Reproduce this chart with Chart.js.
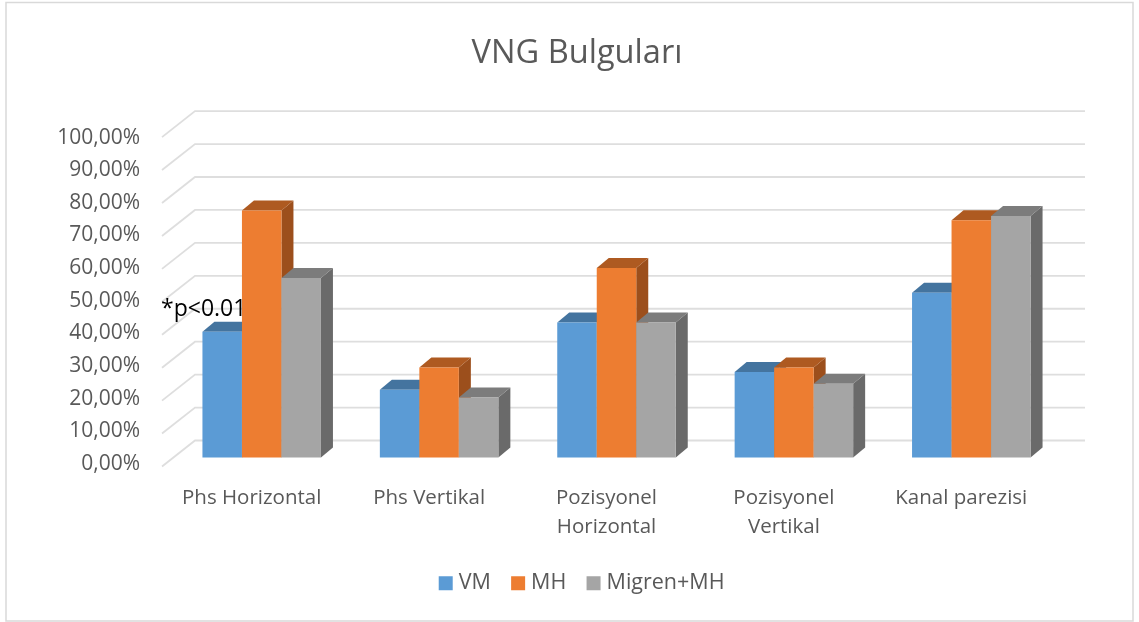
<!DOCTYPE html>
<html>
<head>
<meta charset="utf-8">
<script src="https://cdn.jsdelivr.net/npm/chart.js@4"></script>
<style>
  html, body { margin: 0; background: #fff; }
  canvas { display: block; }
</style>
</head>
<body>
<canvas id="vngChart" width="1139" height="622"></canvas>
<script>
const categories = ["Phs Horizontal", "Phs Vertikal", ["Pozisyonel", "Horizontal"], ["Pozisyonel", "Vertikal"], "Kanal parezisi"];
const vmValues = [38.2, 20.6, 41, 26, 50];
const mhValues = [75, 27.3, 57.5, 27.3, 72];
const migrenValues = [54.5, 18.2, 41, 22.4, 73.3];
const tickValues = [0, 10, 20, 30, 40, 50, 60, 70, 80, 90, 100];
const tickLabels = ["0,00%", "10,00%", "20,00%", "30,00%", "40,00%", "50,00%", "60,00%", "70,00%", "80,00%", "90,00%", "100,00%"];

const textColor = "#595959";
const fontFamily = "'Open Sans'";

// faces of the fake 3D bars, by dataset index
const topColors = ["#44749f", "#ae5a21", "#7c7c7c"];
const sideColors = ["#3d6a91", "#9c4f1c", "#6a6a6a"];

// depth of the box and of one bar, in pixels
const wallBack = { x: 22, y: -17 };
const wallFront = { x: -11, y: 9 };
const barDepth = { x: 12, y: -10 };

function poly(ctx, pts, color) {
  ctx.fillStyle = color;
  ctx.beginPath();
  pts.forEach((p, i) => i ? ctx.lineTo(p[0], p[1]) : ctx.moveTo(p[0], p[1]));
  ctx.closePath();
  ctx.fill();
}

const fake3d = {
  id: "fake3d",
  afterLayout(chart) {
    // title and legend do not sit on the canvas centre in the picture
    chart.titleBlock.left = 15;
    chart.titleBlock.right = 1139;
    chart.legend.left = 29;
    chart.legend.right = 1139;
  },
  beforeDraw(chart) {
    const ctx = chart.ctx;
    ctx.save();
    ctx.fillStyle = "#fff";
    ctx.fillRect(0, 0, chart.width, chart.height);
    ctx.strokeStyle = "#d9d9d9";
    ctx.lineWidth = 1.5;
    ctx.strokeRect(6, 2.5, 1127, 618.5);
    ctx.restore();
  },
  beforeDatasetsDraw(chart) {
    const ctx = chart.ctx, area = chart.chartArea, y = chart.scales.y;
    ctx.save();
    ctx.strokeStyle = "#dedede";
    ctx.lineWidth = 1.8;
    tickValues.forEach(v => {
      const py = y.getPixelForValue(v);
      ctx.beginPath();
      ctx.moveTo(area.left + wallFront.x, py + wallFront.y);
      ctx.lineTo(area.left + wallBack.x, py + wallBack.y);
      ctx.lineTo(area.right + 25, py + wallBack.y);
      ctx.stroke();
    });
    ctx.restore();
  },
  // the library paints the first dataset last, here it has to be the other way round
  beforeDatasetDraw() {
    return false;
  },
  afterDatasetsDraw(chart) {
    const ctx = chart.ctx;
    chart.data.datasets.forEach((ds, i) => {
      chart.getDatasetMeta(i).data.forEach(bar => {
        const p = bar.getProps(["x", "y", "base", "width"], true);
        const l = p.x - p.width / 2, r = p.x + p.width / 2;
        poly(ctx, [[r, p.y], [r + barDepth.x, p.y + barDepth.y], [r + barDepth.x, p.base + barDepth.y], [r, p.base]], sideColors[i]);
        poly(ctx, [[l, p.y], [r, p.y], [r + barDepth.x, p.y + barDepth.y], [l + barDepth.x, p.y + barDepth.y]], topColors[i]);
        bar.draw(ctx);
      });
    });
    ctx.save();
    ctx.fillStyle = "#000";
    ctx.font = "23px " + fontFamily;
    ctx.textAlign = "left";
    ctx.textBaseline = "middle";
    ctx.fillText("*p<0.01", 161, 309);
    ctx.restore();
  }
};

new Chart("vngChart", {
  type: "bar",
  data: {
    labels: categories,
    datasets: [
      { label: "VM", data: vmValues, backgroundColor: "#5b9bd5" },
      { label: "MH", data: mhValues, backgroundColor: "#ed7d31" },
      { label: "Migren+MH", data: migrenValues, backgroundColor: "#a5a5a5" }
    ]
  },
  plugins: [fake3d],
  options: {
    responsive: false,
    animation: false,
    layout: { padding: { left: 0, right: 79, top: 0, bottom: 18 } },
    datasets: { bar: { categoryPercentage: 0.668, barPercentage: 1, yAxisID: "y" } },
    scales: {
      x: {
        grid: { display: false },
        border: { display: false },
        afterFit: s => { s.height = 80; },
        ticks: {
          color: textColor,
          font: { family: fontFamily, size: 20.5, lineHeight: 1.42 },
          padding: 8,
          labelOffset: -10,
          maxRotation: 0,
          autoSkip: false
        }
      },
      y: { display: false, min: -3.03, max: 100 },
      yTicks: {
        axis: "y",
        position: "left",
        min: -1.07,
        max: 102.9,
        grid: { display: false, drawTicks: false },
        border: { display: false },
        afterFit: s => { s.width = 173; },
        afterBuildTicks: s => { s.ticks = tickValues.map(v => ({ value: v })); },
        ticks: {
          color: textColor,
          font: { family: fontFamily, size: 21 },
          padding: 33,
          autoSkip: false,
          callback: (v, i) => tickLabels[i]
        }
      }
    },
    plugins: {
      tooltip: { enabled: false },
      title: {
        display: true,
        text: "VNG Bulguları",
        color: textColor,
        font: { family: fontFamily, size: 32.6, weight: "normal" },
        padding: { top: 34, bottom: 55 }
      },
      legend: {
        position: "bottom",
        labels: {
          color: textColor,
          font: { family: fontFamily, size: 21.5 },
          boxWidth: 4.5,
          boxHeight: 4.5,
          padding: 25,
          generateLabels(chart) {
            return Chart.defaults.plugins.legend.labels.generateLabels(chart).map(item => {
              item.lineWidth = 9.5;
              item.strokeStyle = item.fillStyle;
              return item;
            });
          }
        }
      }
    }
  }
});
</script>
</body>
</html>
